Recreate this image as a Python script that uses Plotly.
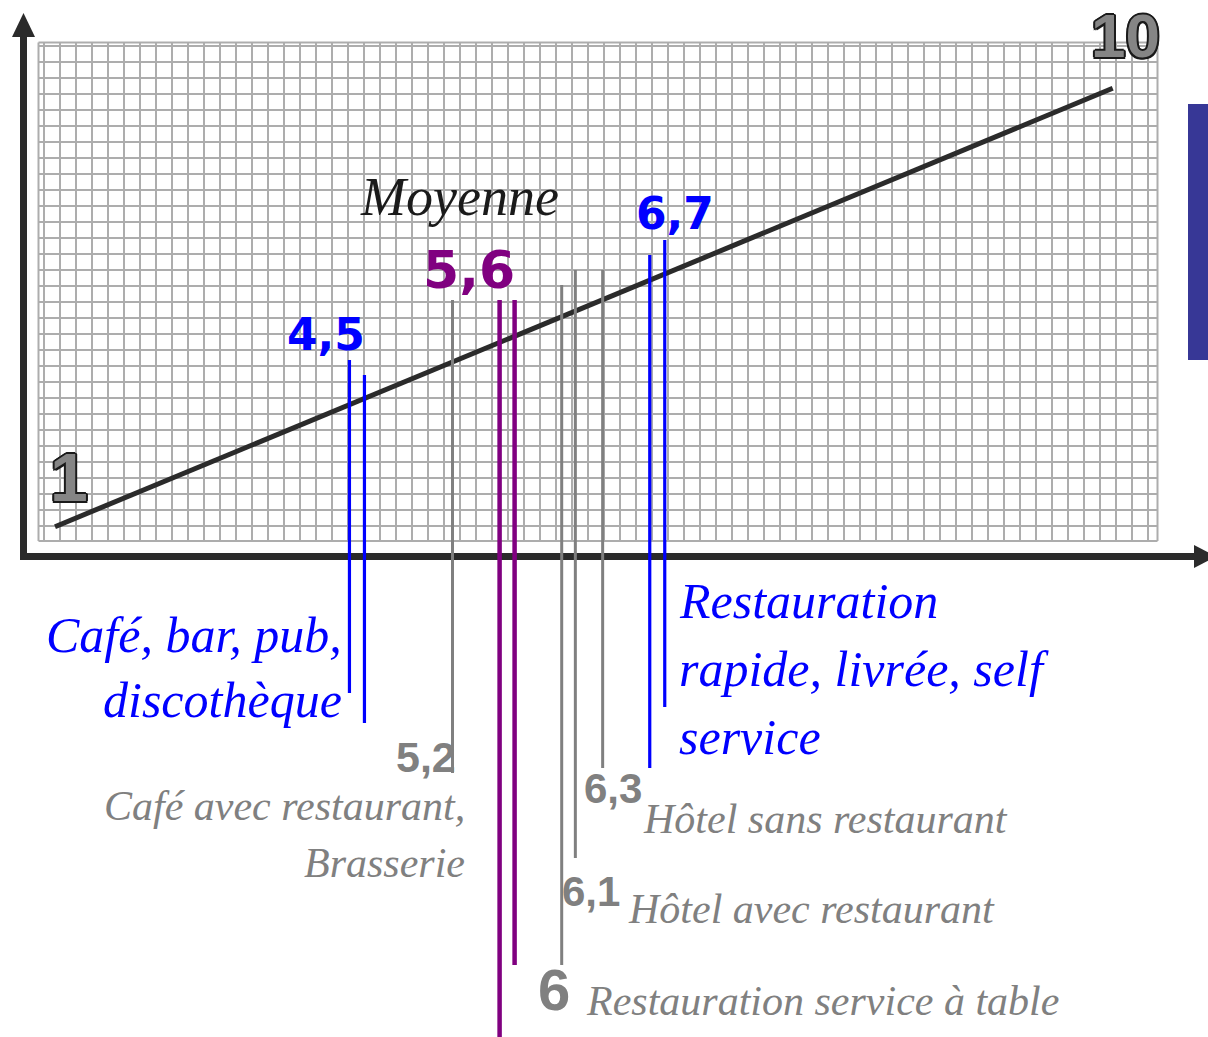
import plotly.graph_objects as go

W, H = 1208, 1037

# Scores on the 1-10 scale, by type of establishment
categories = [
    "Café, bar, pub,\ndiscothèque",
    "Café avec restaurant,\nBrasserie",
    "Moyenne",
    "Restauration service à table",
    "Hôtel avec restaurant",
    "Hôtel sans restaurant",
    "Restauration\nrapide, livrée, self\nservice",
]
scores = [4.5, 5.2, 5.6, 6.0, 6.1, 6.3, 6.7]
score_labels = ["4,5", "5,2", "5,6", "6", "6,1", "6,3", "6,7"]

# Ends of the rating scale (the diagonal)
scale_ends = [1, 10]
scale_end_labels = ["1", "10"]

# ---- styling -------------------------------------------------------------
BLUE, PURPLE, GREY, DARK = "#0000ff", "#800080", "#808080", "#2b2b2b"
SCRIPT = "Liberation Serif"
BOLD_WIDE = "DejaVu Sans"
BOLD = "Liberation Sans"

# per category: colour, stroke width, lines (pixel offset, top, bottom),
# value label (anchor, xshift, y, size, family), name label (anchor, xshift, y, gap, size, colour)
STYLE = [
    dict(color=BLUE, width=3.2, lines=[(-7.5, 360, 693), (7.5, 375, 723)],
         value=("center", -31, 334, 44, BOLD_WIDE), name=("right", -13, 635, 65, 50, BLUE)),
    dict(color=GREY, width=3, lines=[(0, 300, 773)],
         value=("right", 5, 757, 43, BOLD), name=("right", 14, 806, 57, 42, GREY)),
    dict(color=PURPLE, width=4.5, lines=[(-7.5, 300, 1040), (7.5, 300, 965)],
         value=("center", -38, 270, 52, BOLD_WIDE), name=("center", -48, 197, 0, 54, "#1a1a1a")),
    dict(color=GREY, width=3, lines=[(0, 285, 965)],
         value=("center", -8, 989, 58, BOLD), name=("left", 22, 1001, 0, 42, GREY)),
    dict(color=GREY, width=3, lines=[(0, 270, 858)],
         value=("left", -15, 891, 42, BOLD), name=("left", 51, 909, 0, 42, GREY)),
    dict(color=GREY, width=3, lines=[(0, 270, 768)],
         value=("left", -21, 788, 42, BOLD), name=("left", 38, 819, 0, 42, GREY)),
    dict(color=BLUE, width=3.2, lines=[(-7.5, 255, 768), (7.5, 240, 707)],
         value=("center", 18, 213, 44, BOLD_WIDE), name=("left", 20, 601, 68, 50, BLUE)),
]

# horizontal score scale used by the vertical markers
PX_PER_POINT, PX_AT_ZERO = 136.5, -257.3
x_range = [(0 - PX_AT_ZERO) / PX_PER_POINT, (W - PX_AT_ZERO) / PX_PER_POINT]

# diagonal scale: where 1 and 10 sit on the page
D_X0, D_Y0, D_X1, D_Y1 = 55.0, 526.7, 1112.7, 88.3
dxp = (D_X1 - D_X0) / (scale_ends[1] - scale_ends[0])
dyp = (D_Y0 - D_Y1) / (scale_ends[1] - scale_ends[0])
x3_range = [scale_ends[0] - D_X0 / dxp, scale_ends[0] + (W - D_X0) / dxp]
y2_range = [scale_ends[0] - (H - D_Y0) / dyp, scale_ends[0] + D_Y0 / dyp]

fig = go.Figure()

# squared paper background
GL, GR, GT, GB = 38.5, 1157.5, 42.5, 541
gx, gy = [], []
for x in [GL] + list(range(44, 1149, 16)) + [GR]:
    gx += [x, x, None]
    gy += [GT, GB, None]
for y in [GT] + list(range(46, 527, 16)) + [GB]:
    gx += [GL, GR, None]
    gy += [y, y, None]
fig.add_trace(go.Scatter(x=gx, y=gy, xaxis="x2", yaxis="y", mode="lines",
                         line=dict(color="#adadad", width=2), hoverinfo="skip"))

# the 1 -> 10 diagonal
fig.add_trace(go.Scatter(x=scale_ends, y=scale_ends, xaxis="x3", yaxis="y2", mode="lines",
                         line=dict(color=DARK, width=5), hoverinfo="skip"))

shapes = []
# axes with arrow heads
shapes.append(dict(type="line", xref="x2", yref="y", x0=23.5, x1=23.5, y0=34, y1=560,
                   line=dict(color=DARK, width=7)))
shapes.append(dict(type="path", xref="x2", yref="y", path="M 12 37 L 35 37 L 23.5 13 Z",
                   fillcolor=DARK, line=dict(width=0)))
shapes.append(dict(type="line", xref="x2", yref="y", x0=20, x1=1196, y0=556.5, y1=556.5,
                   line=dict(color=DARK, width=7)))
shapes.append(dict(type="path", xref="x2", yref="y", path="M 1194 545 L 1194 568 L 1216 556.5 Z",
                   fillcolor=DARK, line=dict(width=0)))
# side bar
shapes.append(dict(type="rect", xref="x2", yref="y", x0=1188, x1=1212, y0=104, y1=360,
                   fillcolor="#373796", line=dict(width=0)))

# vertical markers, positioned by score
for s, st in zip(scores, STYLE):
    for off, top, bot in st["lines"]:
        shapes.append(dict(type="line", xref="x", xsizemode="pixel", xanchor=s, x0=off, x1=off,
                           yref="y", y0=top, y1=bot, line=dict(color=st["color"], width=st["width"])))

fig.update_layout(shapes=shapes)


def text(t, x, y, xref, yref, size, color, family, anchor="center", xshift=0, yshift=0,
         weight="normal", style="normal", shadow=None):
    font = dict(size=size, color=color, family=family, weight=weight, style=style)
    if shadow:
        font["shadow"] = shadow
    fig.add_annotation(text=t, x=x, y=y, xref=xref, yref=yref, showarrow=False,
                       xanchor=anchor, yanchor="middle", xshift=xshift, yshift=yshift, font=font)


for s, lab, cat, st in zip(scores, score_labels, categories, STYLE):
    anc, xs, y, size, fam = st["value"]
    text(lab, s, y, "x", "y", size, st["color"], fam, anc, xs, weight="bold")
    anc, xs, y0, gap, size, col = st["name"]
    for i, line in enumerate(cat.split("\n")):
        text(line, s, y0 + i * gap, "x", "y", size, col, SCRIPT, anc, xs, style="italic")

# outlined scale-end numbers (dark ring drawn as a text shadow)
OUTLINE = ", ".join(f"{dx}px {dy}px 0 #1a1a1a" for dx, dy in
                    [(-2, 0), (2, 0), (0, -2), (0, 2), (-1.5, -1.5), (1.5, 1.5), (-1.5, 1.5), (1.5, -1.5)])
END_OFFSETS = [(14, 50, 68), (13, 53, 62)]
for v, lab, (xs, ys, size) in zip(scale_ends, scale_end_labels, END_OFFSETS):
    text(lab, v, v, "x3", "y2", size, "#858585", BOLD, "center", xs, ys, weight="bold", shadow=OUTLINE)

fig.update_layout(
    width=W, height=H, margin=dict(l=0, r=0, t=0, b=0),
    paper_bgcolor="white", plot_bgcolor="white", showlegend=False,
    xaxis=dict(range=x_range, visible=False, fixedrange=True, domain=[0, 1]),
    xaxis2=dict(range=[0, W], visible=False, fixedrange=True, overlaying="x", anchor="y"),
    xaxis3=dict(range=x3_range, visible=False, fixedrange=True, overlaying="x", anchor="y"),
    yaxis=dict(range=[H, 0], visible=False, fixedrange=True, domain=[0, 1]),
    yaxis2=dict(range=y2_range, visible=False, fixedrange=True, overlaying="y", anchor="x"),
)

fig.write_html("out.html")
